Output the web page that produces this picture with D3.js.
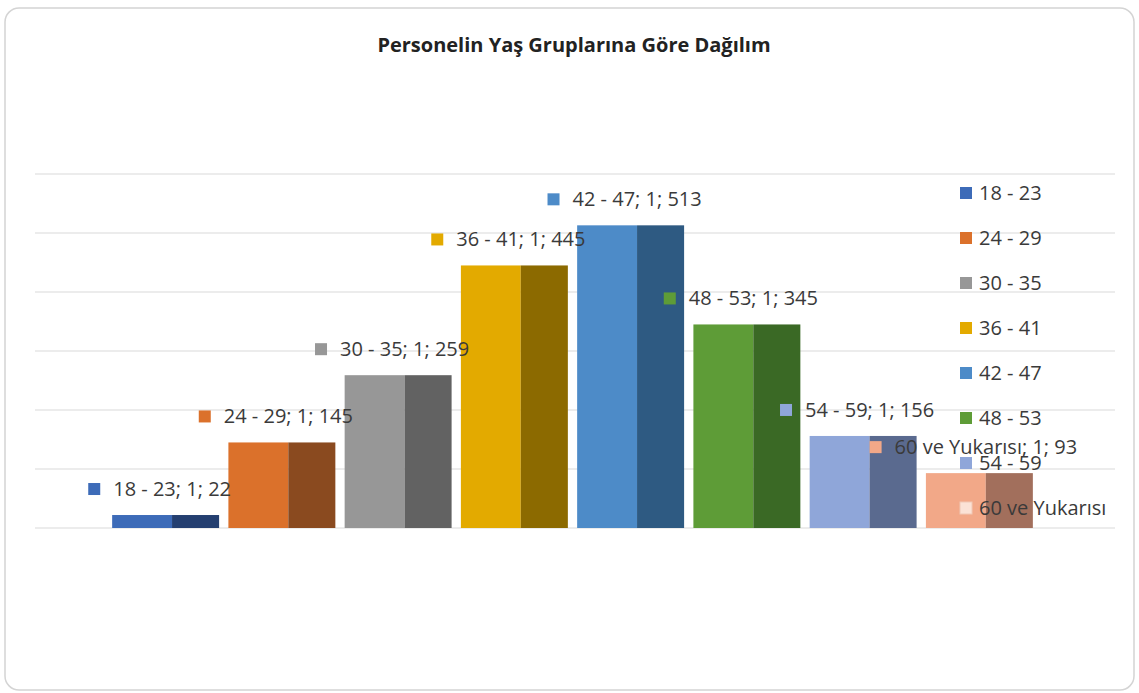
<!DOCTYPE html>
<html>
<head>
<meta charset="utf-8">
<script src="https://cdn.jsdelivr.net/npm/d3@7"></script>
<style>
  body { margin: 0; background: #fff; }
  text { font-family: "Open Sans", "Noto Sans", sans-serif; }
</style>
</head>
<body>
<div id="chart"></div>
<script>
// age groups and personnel counts
var groups = ["18 - 23", "24 - 29", "30 - 35", "36 - 41", "42 - 47", "48 - 53", "54 - 59", "60 ve Yukarısı"];
var counts = [22, 145, 259, 445, 513, 345, 156, 93];
var frontColors = ["#3d6bb8", "#db712b", "#979797", "#e3aa00", "#4d8bc8", "#5e9c37", "#8fa6d9", "#f2a888"];
var sideColors = ["#243f70", "#8a4a1f", "#626262", "#8c6a00", "#2e5a82", "#3a6925", "#5a6a8f", "#a26f5c"];
var gridTicks = [0, 100, 200, 300, 400, 500, 600];

var width = 1139, height = 693;
var svg = d3.select("#chart").append("svg").attr("width", width).attr("height", height);

svg.append("rect")
    .attr("x", 5).attr("y", 8).attr("width", 1129).attr("height", 682)
    .attr("rx", 14).attr("fill", "#fff").attr("stroke", "#d4d4d4").attr("stroke-width", 1.5);

svg.append("text")
    .attr("x", 574).attr("y", 52)
    .attr("text-anchor", "middle")
    .attr("font-size", 20).attr("font-weight", "bold").attr("fill", "#222")
    .text("Personelin Yaş Gruplarına Göre Dağılım");

var x = d3.scaleBand().domain(groups).range([107.5, 1037.5]).paddingInner(0.08).paddingOuter(0.04);
var y = d3.scaleLinear().domain([0, 600]).range([528, 174]);

// gridlines
svg.append("g").selectAll("line")
    .data(gridTicks)
    .enter().append("line")
    .attr("x1", 35).attr("x2", 1115)
    .attr("y1", function(d) { return y(d); })
    .attr("y2", function(d) { return y(d); })
    .attr("stroke", "#d9d9d9").attr("stroke-width", 1.2);

var frontShare = 0.56;
var plot = svg.append("g");
var labels = svg.append("g");

groups.forEach(function(g, i) {
    var bx = x(g), bw = x.bandwidth(), top = y(counts[i]);
    var cx = bx + bw / 2 - 6;

    plot.append("rect")
        .attr("x", bx).attr("y", top)
        .attr("width", bw * frontShare).attr("height", y(0) - top)
        .attr("fill", frontColors[i]);
    plot.append("rect")
        .attr("x", bx + bw * frontShare).attr("y", top)
        .attr("width", bw * (1 - frontShare)).attr("height", y(0) - top)
        .attr("fill", sideColors[i]);

    // data label: marker + "name; 1; value"
    var lab = labels.append("g");
    var t = lab.append("text")
        .attr("y", top - 19)
        .attr("font-size", 20).attr("fill", "#3a3a3a")
        .text(g + "; 1; " + counts[i]);
    var tw = t.node().getComputedTextLength();
    var full = tw + 25;
    var lx = cx - full / 2;
    lab.append("rect")
        .attr("x", lx).attr("y", top - 32).attr("width", 12).attr("height", 12)
        .attr("fill", frontColors[i]);
    t.attr("x", lx + 25);
});

// legend
var legend = svg.append("g");
groups.forEach(function(g, i) {
    var ly = 193 + i * 45;
    legend.append("rect")
        .attr("x", 960).attr("y", ly - 6).attr("width", 12).attr("height", 12)
        .attr("fill", i == 7 ? "#fbe2d6" : frontColors[i])
        .attr("stroke", i == 7 ? "#f0c8b5" : "none");
    legend.append("text")
        .attr("x", 979).attr("y", ly + 7)
        .attr("font-size", 20).attr("fill", "#3a3a3a")
        .text(g);
});
</script>
</body>
</html>
